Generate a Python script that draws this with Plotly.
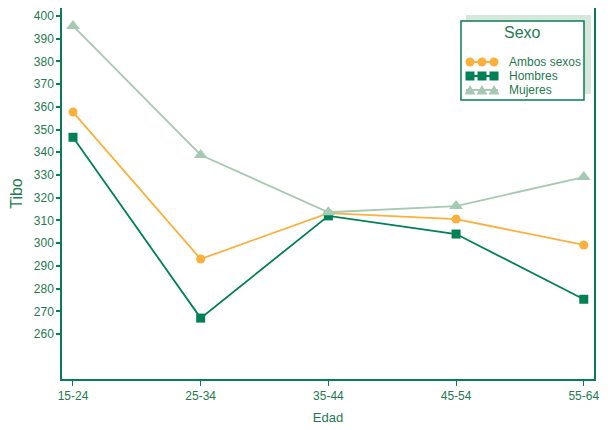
import plotly.graph_objects as go

categories = ["15-24", "25-34", "35-44", "45-54", "55-64"]
ambos = [357.7, 293.0, 313.2, 310.6, 299.2]
hombres = [346.6, 267.0, 312.0, 304.0, 275.3]
mujeres = [395.6, 338.8, 313.6, 316.3, 329.1]
y_ticks = list(range(260, 401, 10))
series_names = ["Ambos sexos", "Hombres", "Mujeres"]

GREEN = "#0a7d52"
TXT = "#1f7a4f"
ORANGE = "#fbb03b"
DARK = "#008055"
LIGHT = "#a6c9b4"
colors = [ORANGE, DARK, LIGHT]
symbols = ["circle", "square", "triangle-up"]
sizes = [9, 9, 12]

fig = go.Figure()
for name, vals, col, sym, sz in zip(series_names, [ambos, hombres, mujeres], colors, symbols, sizes):
    fig.add_trace(go.Scatter(x=list(range(len(categories))), y=vals, name=name, mode="lines+markers",
                             line=dict(color=col, width=1.8),
                             marker=dict(symbol=sym, size=sz, color=col),
                             showlegend=False))

# Figure is placed 8px in from the page corner by the body margin
W, H = 603, 422
L, R, T, B = 54, 586, 0, 371

def px(x):
    return (x - L) / (R - L)

def py(y):
    return (B - y) / (B - T)

shapes = []
annotations = []
# legend shadow and box
shapes.append(dict(type="rect", xref="paper", yref="paper",
                   x0=px(458), x1=px(583), y0=py(86), y1=py(7),
                   fillcolor="#d6e7dc", line=dict(width=0), layer="above"))
shapes.append(dict(type="rect", xref="paper", yref="paper",
                   x0=px(453), x1=px(576), y0=py(92), y1=py(13),
                   fillcolor="white", line=dict(color=GREEN, width=1.5), layer="above"))
annotations.append(dict(text="Sexo", xref="paper", yref="paper", x=px(514.5), y=py(25),
                        xanchor="center", yanchor="middle", showarrow=False,
                        font=dict(size=16, color=TXT)))
item_y = [54, 68, 82]
for i, (name, col) in enumerate(zip(series_names, colors)):
    yc = item_y[i]
    shapes.append(dict(type="line", xref="paper", yref="paper",
                       x0=px(458), x1=px(490), y0=py(yc), y1=py(yc),
                       line=dict(color=col, width=2), layer="above"))
    for xc in [462, 474, 486]:
        if i == 0:
            shapes.append(dict(type="circle", xref="paper", yref="paper",
                               x0=px(xc - 4.5), x1=px(xc + 4.5), y0=py(yc + 4.5), y1=py(yc - 4.5),
                               fillcolor=col, line=dict(width=0), layer="above"))
        elif i == 1:
            shapes.append(dict(type="rect", xref="paper", yref="paper",
                               x0=px(xc - 4.5), x1=px(xc + 4.5), y0=py(yc + 4.5), y1=py(yc - 4.5),
                               fillcolor=col, line=dict(width=0), layer="above"))
        else:
            x1, x2, x3 = px(xc - 5.5), px(xc + 5.5), px(xc)
            y1, y3 = py(yc + 4.5), py(yc - 5)
            shapes.append(dict(type="path", xref="paper", yref="paper",
                               path=f"M {x1} {y1} L {x2} {y1} L {x3} {y3} Z",
                               fillcolor=col, line=dict(width=0), layer="above"))
    annotations.append(dict(text=name, xref="paper", yref="paper", x=px(499), y=py(yc),
                            xanchor="left", yanchor="middle", showarrow=False,
                            font=dict(size=12, color=TXT)))

fig.update_layout(
    width=W, height=H,
    margin=dict(l=L, r=W - R, t=T, b=H - B, autoexpand=False),
    paper_bgcolor="white", plot_bgcolor="white",
    font=dict(family="Liberation Sans, Arial, sans-serif", size=12, color=TXT),
    showlegend=False,
    shapes=shapes,
    annotations=annotations,
    xaxis=dict(
        range=[-0.086, 4.08],
        tickmode="array", tickvals=list(range(len(categories))), ticktext=categories,
        showgrid=False, zeroline=False,
        showline=True, linecolor=GREEN, linewidth=1.5, mirror=True,
        ticks="outside", ticklen=5, tickcolor=GREEN, tickwidth=1,
        tickfont=dict(size=12, color=TXT),
        title=dict(text="Edad", font=dict(size=13, color=TXT), standoff=11),
        automargin=False,
    ),
    yaxis=dict(
        range=[240.2, 403.5],
        tickmode="array", tickvals=y_ticks,
        showgrid=False, zeroline=False,
        showline=True, linecolor=GREEN, linewidth=1.5, mirror=True,
        ticks="outside", ticklen=4, tickcolor=GREEN, tickwidth=2,
        tickfont=dict(size=12, color=TXT),
        title=dict(text="Tibo", font=dict(size=16, color=TXT), standoff=12),
        automargin=False,
    ),
)

fig.write_html("out.html")
